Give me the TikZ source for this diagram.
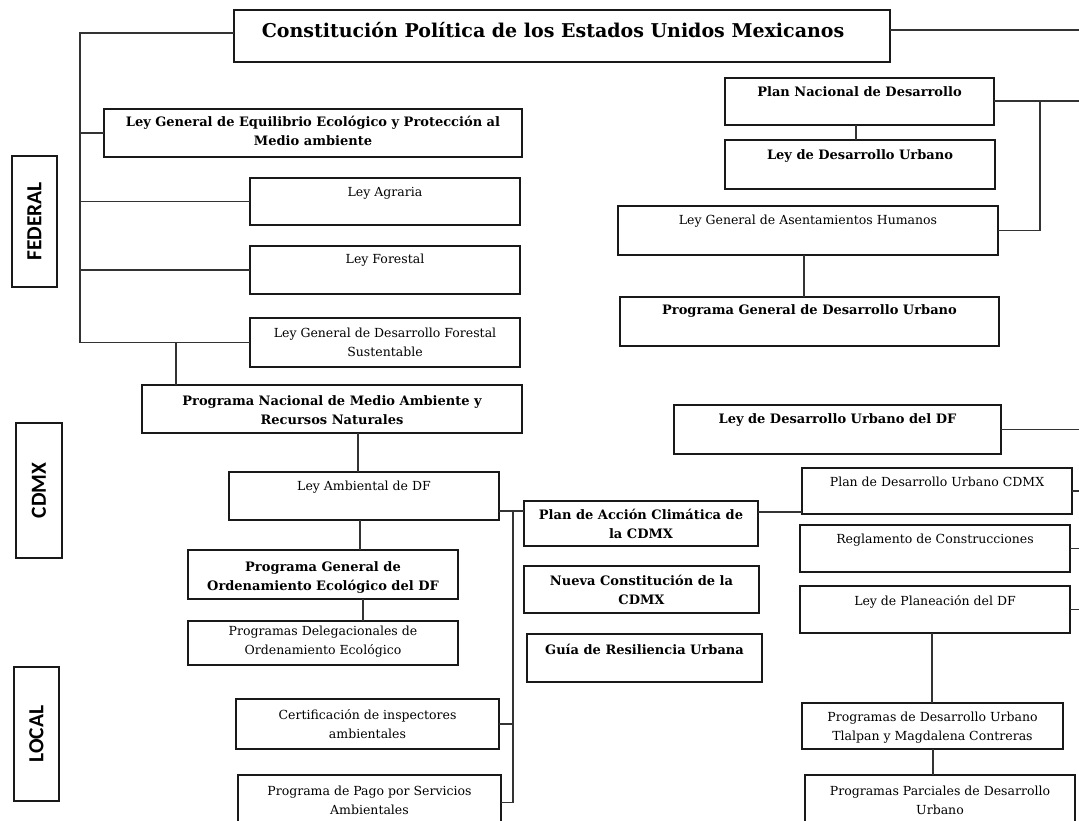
\documentclass[tikz,border=0pt]{standalone}
\usepackage{fontspec}
\setmainfont{DejaVu Serif}
\newfontfamily\labelfont{Carlito}
\usetikzlibrary{calc}

% Box from corner (x1,y1) to (x2,y2), its text centred at height ty
% #1 name, #2 x1, #3 y1, #4 x2, #5 y2, #6 ty, #7 text style, #8 text
\newcommand{\mkbox}[8]{%
  \node[boxst, minimum width={#4-#2}, minimum height={#5-#3}] (#1) at ({(#2+#4)/2},{(#3+#5)/2}) {};
  \node[#7] (#1-t) at ({(#2+#4)/2},#6) {#8};
}

\tikzset{
  boxst/.style={draw=black!90, line width=1.5pt, inner sep=0pt, outer sep=0pt, rectangle},
  txt/.style={inner sep=0pt, align=center, font=\fontsize{12.5}{19}\selectfont},
  btxt/.style={inner sep=0pt, align=center, font=\fontsize{13}{19}\selectfont\bfseries},
  ttxt/.style={inner sep=0pt, align=center, xshift=-9pt, font=\fontsize{19}{22}\selectfont\bfseries},
  conn/.style={draw=black!80, line width=1.3pt},
  side/.style={draw=black!90, line width=1.5pt, inner sep=0pt, rotate=90,
    font=\labelfont\bfseries\fontsize{21.5}{22}\selectfont},
}

\begin{document}
\begin{tikzpicture}[x=1pt, y=-1pt]
\useasboundingbox (0,0) rectangle (1079,820);
\fill[white] (0,0) rectangle (1079,820);
\clip (0,0) rectangle (1079,820);

% level labels
\node[side, minimum width=131pt, minimum height=45pt] (federal) at (34.5,221.5) {FEDERAL};
\node[side, minimum width=135pt, minimum height=46pt] (cdmx) at (39,490.5) {CDMX};
\node[side, minimum width=134pt, minimum height=45pt] (local) at (36.5,734) {LOCAL};

% top
\mkbox{title}{234}{10}{890}{62}{30}{ttxt}{Constitución Política de los Estados Unidos Mexicanos}

% federal, environmental branch
\mkbox{lgeepa}{104}{109}{522}{157}{131}{btxt}{Ley General de Equilibrio Ecológico y Protección al\\Medio ambiente}
\mkbox{agraria}{250}{178}{520}{225}{193}{txt}{Ley Agraria}
\mkbox{forestal}{250}{246}{520}{294}{260}{txt}{Ley Forestal}
\mkbox{lgdfs}{250}{318}{520}{367}{342}{txt}{Ley General de Desarrollo Forestal\\Sustentable}
\mkbox{pnma}{142}{385}{522}{433}{410}{btxt}{Programa Nacional de Medio Ambiente y\\Recursos Naturales}

% CDMX and local, environmental branch
\mkbox{amb}{229}{472}{499}{520}{487}{txt}{Ley Ambiental de DF}
\mkbox{pgoe}{188}{550}{458}{599}{577}{btxt}{Programa General de\\Ordenamiento Ecológico del DF}
\mkbox{pdoe}{188}{621}{458}{665}{642}{txt}{Programas Delegacionales de\\Ordenamiento Ecológico}
\mkbox{cert}{236}{699}{499}{749}{724}{txt}{Certificación de inspectores\\ambientales}
\mkbox{pago}{238}{775}{501}{830}{800}{txt}{Programa de Pago por Servicios\\Ambientales}

% CDMX instruments
\mkbox{pac}{524}{501}{758}{546}{524}{btxt}{Plan de Acción Climática de\\la CDMX}
\mkbox{nueva}{524}{566}{759}{613}{590}{btxt}{Nueva Constitución de la\\CDMX}
\mkbox{guia}{527}{634}{762}{682}{649}{btxt}{Guía de Resiliencia Urbana}

% federal, urban branch
\mkbox{pnd}{725}{78}{994}{125}{92}{btxt}{Plan Nacional de Desarrollo}
\mkbox{ldu}{725}{140}{995}{189}{156}{btxt}{Ley de Desarrollo Urbano}
\mkbox{lgah}{618}{206}{998}{255}{221}{txt}{Ley General de Asentamientos Humanos}
\mkbox{pgdu}{620}{297}{999}{346}{311}{btxt}{Programa General de Desarrollo Urbano}
\mkbox{ldudf}{674}{405}{1001}{454}{420}{btxt}{Ley de Desarrollo Urbano del DF}

% CDMX and local, urban branch
\mkbox{pducdmx}{802}{468}{1072}{514}{482}{txt}{Plan de Desarrollo Urbano CDMX}
\mkbox{regl}{800}{525}{1070}{572}{540}{txt}{Reglamento de Construcciones}
\mkbox{plan}{800}{586}{1070}{633}{602}{txt}{Ley de Planeación del DF}
\mkbox{tlalpan}{802}{703}{1063}{749}{728}{txt}{Programas de Desarrollo Urbano\\Tlalpan y Magdalena Contreras}
\mkbox{ppdu}{805}{775}{1075}{830}{800}{txt}{Programas Parciales de Desarrollo\\Urbano}

% helper coordinates for connector lines
\coordinate (edge) at (1079,0);
\coordinate (ft) at (80,33);
\coordinate (pn) at (176,343);
\coordinate (v1) at (358,0);
\coordinate (v2) at (360,0);
\coordinate (v3) at (363,0);
\coordinate (lt) at (513,511);
\coordinate (pa) at (0,512);
\coordinate (v4) at (932,0);
\coordinate (v5) at (933,0);
\coordinate (t1) at (0,30);
\coordinate (pv) at (1040,101);
\coordinate (v6) at (856,0);
\coordinate (v7) at (804,0);

% environmental trunk
\draw[conn] (title.west |- ft) -- (ft) -- (ft |- lgdfs.west) -- (lgdfs.west);
\draw[conn] (ft |- lgeepa.west) -- (lgeepa.west);
\draw[conn] (ft |- agraria.west) -- (agraria.west);
\draw[conn] (ft |- forestal.west) -- (forestal.west);
\draw[conn] (pn) -- (pn |- pnma.north);
\draw[conn] (pnma.south -| v1) -- (amb.north -| v1);
\draw[conn] (amb.south -| v2) -- (pgoe.north -| v2);
\draw[conn] (pgoe.south -| v3) -- (pdoe.north -| v3);
\draw[conn] (amb.east |- lt) -- (pac.west |- lt);
\draw[conn] (lt) -- (lt |- pago.east) -- (pago.east);
\draw[conn] (cert.east) -- (lt |- cert.east);
\draw[conn] (pac.east |- pa) -- (pducdmx.west |- pa);

% urban trunk
\draw[conn] (title.east |- t1) -- (edge |- t1);
\draw[conn] (pnd.east |- pv) -- (edge |- pv);
\draw[conn] (pv) -- (pv |- lgah.east) -- (lgah.east);
\draw[conn] (pnd.south -| v6) -- (ldu.north -| v6);
\draw[conn] (lgah.south -| v7) -- (pgdu.north -| v7);
\draw[conn] (ldudf.east) -- (ldudf.east -| edge);
\draw[conn] (pducdmx.east) -- (pducdmx.east -| edge);
\draw[conn] (regl.east) -- (regl.east -| edge);
\draw[conn] (plan.east) -- (plan.east -| edge);
\draw[conn] (plan.south -| v4) -- (tlalpan.north -| v4);
\draw[conn] (tlalpan.south -| v5) -- (ppdu.north -| v5);
\end{tikzpicture}
\end{document}
